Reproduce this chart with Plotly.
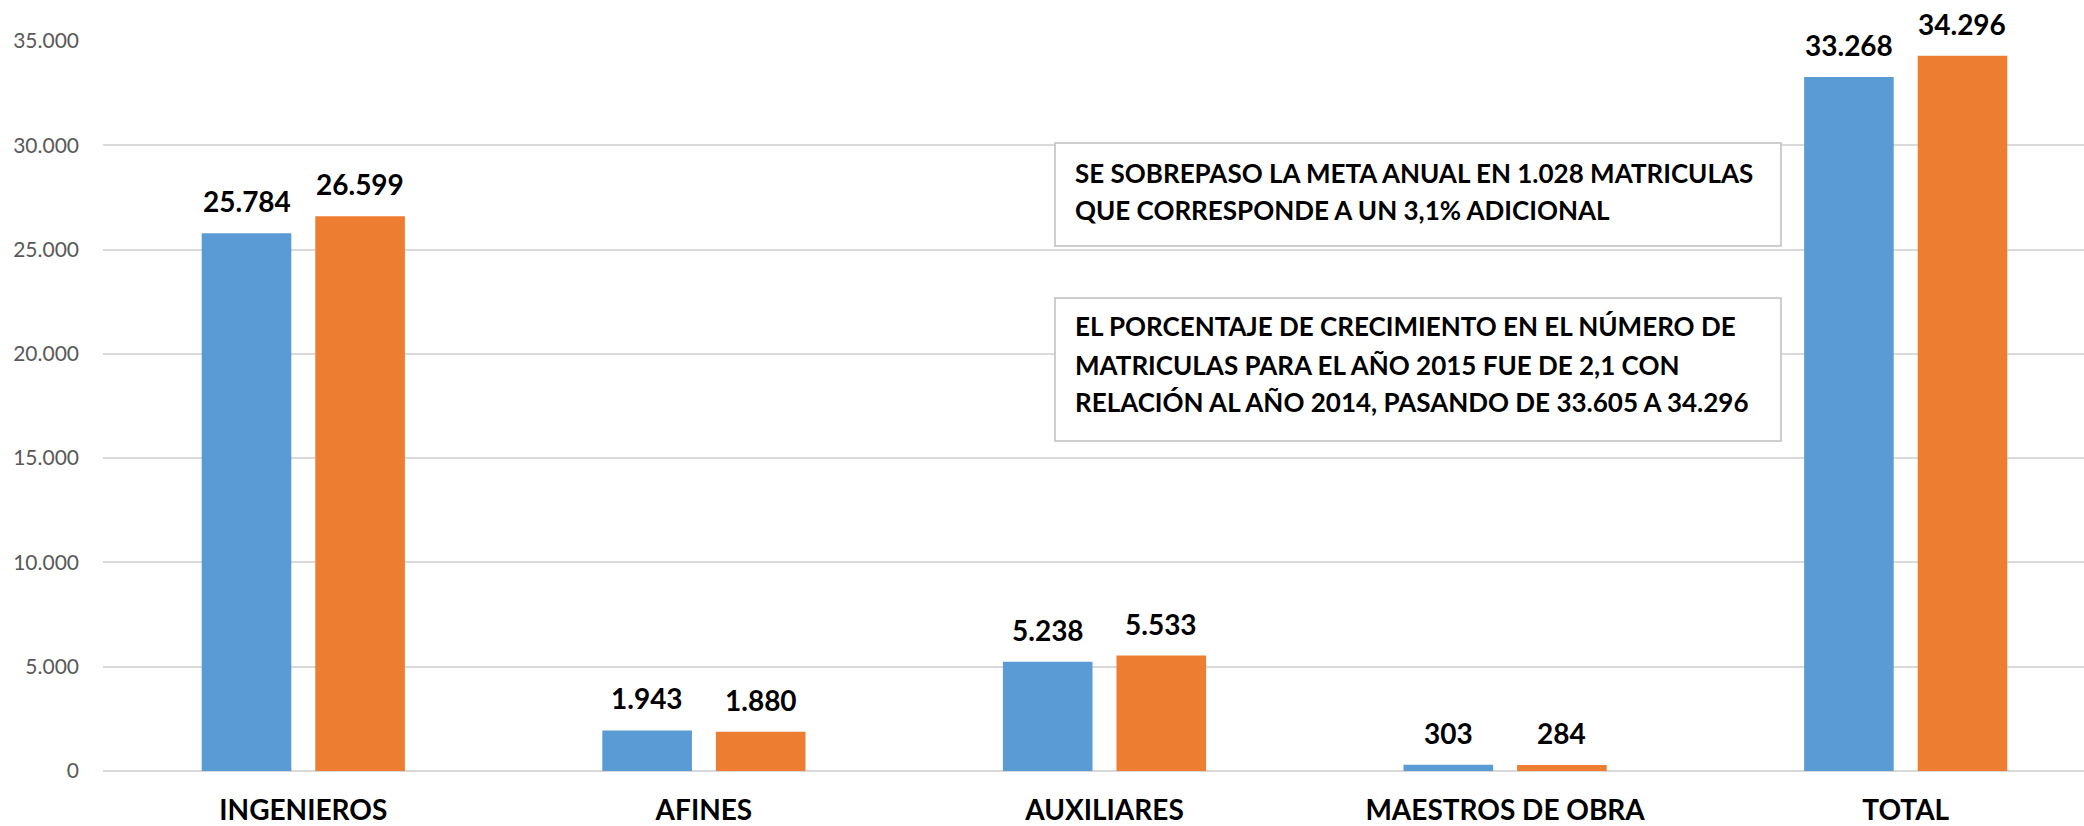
import plotly.graph_objects as go

# ---------------- data ----------------
categories = ["INGENIEROS", "AFINES", "AUXILIARES", "MAESTROS DE OBRA", "TOTAL"]
serie_meta = [25784, 1943, 5238, 303, 33268]
serie_real = [26599, 1880, 5533, 284, 34296]
series_names = ["META 2015", "MATRÍCULAS 2015"]
y_ticks = [0, 5000, 10000, 15000, 20000, 25000, 30000, 35000]
note_1 = ["SE SOBREPASO LA META ANUAL EN 1.028 MATRICULAS",
          "QUE CORRESPONDE A UN 3,1% ADICIONAL"]
note_2 = ["EL PORCENTAJE DE CRECIMIENTO EN EL NÚMERO DE",
          "MATRICULAS PARA EL AÑO 2015 FUE DE 2,1 CON",
          "RELACIÓN AL AÑO 2014, PASANDO DE 33.605 A 34.296"]

# ---------------- layout constants ----------------
W, H = 2084, 826
ML, MR, MT, MB = 103, 0, 41, 55
PW, PH = W - ML - MR, H - MT - MB
CAT_PX = 400.6
BARGAP, BARGROUPGAP = 0.433, 0.211
X_RANGE = [-0.5, -0.5 + PW / CAT_PX]
BLUE, ORANGE = "#5B9BD5", "#ED7D31"
FONT = "Lato, 'Open Sans', sans-serif"


def fmt(v):
    return f"{v:,}".replace(",", ".")


def px_x(px):
    return (px - ML) / PW


def px_y(py):
    return (H - MB - py) / PH


fig = go.Figure()
for name, vals, col in [(series_names[0], serie_meta, BLUE),
                        (series_names[1], serie_real, ORANGE)]:
    fig.add_trace(go.Bar(
        name=name, x=categories, y=vals,
        marker=dict(color=col, line=dict(width=0)),
        hoverinfo="x+y",
    ))

# value labels above bars
shift = CAT_PX * (1 - BARGAP) / 4
annotations = []
for vals, sx in [(serie_meta, -shift), (serie_real, shift)]:
    for c, v in zip(categories, vals):
        annotations.append(dict(
            x=c, y=v, xref="x", yref="y", text=fmt(v), showarrow=False,
            xanchor="center", yanchor="bottom", xshift=sx, yshift=13,
            font=dict(family=FONT, size=28, color="#000000", weight="bold"),
        ))

# note boxes
shapes = []
for (x0, x1, y0, y1) in [(1055, 1781, 143, 246), (1055, 1781, 298, 441)]:
    shapes.append(dict(type="rect", xref="paper", yref="paper",
                       x0=px_x(x0), x1=px_x(x1), y0=px_y(y1), y1=px_y(y0),
                       line=dict(color="#BFBFBF", width=1.5),
                       fillcolor="rgba(255,255,255,1)", layer="above"))

for lines, centers in [(note_1, [172.5, 210]), (note_2, [326, 364.5, 401.5])]:
    for t, cy in zip(lines, centers):
        annotations.append(dict(
            x=px_x(1073), y=px_y(cy), xref="paper", yref="paper", text=t,
            showarrow=False, xanchor="left", yanchor="middle",
            font=dict(family=FONT, size=26, color="#000000", weight="bold"),
        ))

fig.update_layout(
    width=W, height=H,
    margin=dict(l=ML, r=MR, t=MT, b=MB, pad=0),
    paper_bgcolor="white", plot_bgcolor="white",
    barmode="group", bargap=BARGAP, bargroupgap=BARGROUPGAP,
    showlegend=False,
    separators=",.",
    annotations=annotations,
    shapes=shapes,
    xaxis=dict(
        range=X_RANGE, showgrid=False, showline=False, zeroline=False,
        ticks="", ticklabelstandoff=20,
        tickfont=dict(family=FONT, size=28, color="#000000", weight="bold"),
    ),
    yaxis=dict(
        range=[0, 35000], tickvals=y_ticks, tickformat=",d",
        showgrid=True, gridcolor="#D9D9D9", gridwidth=1.5,
        zeroline=True, zerolinecolor="#D9D9D9", zerolinewidth=2,
        showline=False, ticks="", ticklabelstandoff=23,
        tickfont=dict(family=FONT, size=21, color="#595959"),
    ),
)

fig.write_html("out.html", config={"displayModeBar": False},
               post_script="document.body.style.margin='0';")
